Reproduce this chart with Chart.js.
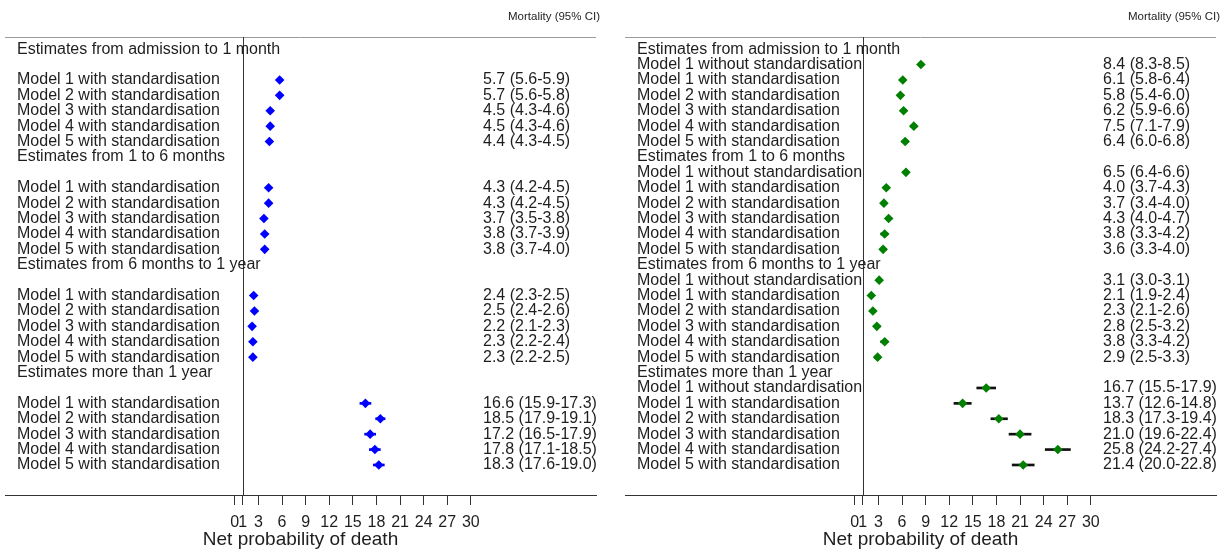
<!DOCTYPE html>
<html>
<head>
<meta charset="utf-8">
<script src="https://cdn.jsdelivr.net/npm/chart.js@4.4.1/dist/chart.umd.min.js"></script>
<style>
  html, body { margin: 0; padding: 0; background: #fff; }
  #wrap { position: relative; width: 1221px; height: 551px; overflow: hidden; }
  canvas { position: absolute; top: 0; }
</style>
</head>
<body>
<div id="wrap">
  <canvas id="leftPanel" width="620" height="551" style="left:0"></canvas>
  <canvas id="rightPanel" width="601" height="551" style="left:620px"></canvas>
</div>
<script>
// ---- data ----
const groups = [
  'Estimates from admission to 1 month',
  'Estimates from 1 to 6 months',
  'Estimates from 6 months to 1 year',
  'Estimates more than 1 year'
];
// '' = empty row (no unstandardised estimate in the left panel)
const leftModels = ['', 'Model 1 with standardisation', 'Model 2 with standardisation',
  'Model 3 with standardisation', 'Model 4 with standardisation', 'Model 5 with standardisation'];
const rightModels = ['Model 1 without standardisation', 'Model 1 with standardisation', 'Model 2 with standardisation',
  'Model 3 with standardisation', 'Model 4 with standardisation', 'Model 5 with standardisation'];

const leftEst  = [5.7, 5.7, 4.5, 4.5, 4.4,  4.3, 4.3, 3.7, 3.8, 3.8,  2.4, 2.5, 2.2, 2.3, 2.3,  16.6, 18.5, 17.2, 17.8, 18.3];
const leftLow  = [5.6, 5.6, 4.3, 4.3, 4.3,  4.2, 4.2, 3.5, 3.7, 3.7,  2.3, 2.4, 2.1, 2.2, 2.2,  15.9, 17.9, 16.5, 17.1, 17.6];
const leftHigh = [5.9, 5.8, 4.6, 4.6, 4.5,  4.5, 4.5, 3.8, 3.9, 4.0,  2.5, 2.6, 2.3, 2.4, 2.5,  17.3, 19.1, 17.9, 18.5, 19.0];

const rightEst  = [8.4, 6.1, 5.8, 6.2, 7.5, 6.4,  6.5, 4.0, 3.7, 4.3, 3.8, 3.6,  3.1, 2.1, 2.3, 2.8, 3.8, 2.9,  16.7, 13.7, 18.3, 21.0, 25.8, 21.4];
const rightLow  = [8.3, 5.8, 5.4, 5.9, 7.1, 6.0,  6.4, 3.7, 3.4, 4.0, 3.3, 3.3,  3.0, 1.9, 2.1, 2.5, 3.3, 2.5,  15.5, 12.6, 17.3, 19.6, 24.2, 20.0];
const rightHigh = [8.5, 6.4, 6.0, 6.6, 7.9, 6.8,  6.6, 4.3, 4.0, 4.7, 4.2, 4.0,  3.1, 2.4, 2.6, 3.2, 4.2, 3.3,  17.9, 14.8, 19.4, 22.4, 27.4, 22.8];

const xTicks = [0, 1, 3, 6, 9, 12, 15, 18, 21, 24, 27, 30];
const nullValue = 1;
const headerText = 'Mortality (95% CI)';
const axisTitle = 'Net probability of death';

const FONT = "'Liberation Sans', Arial, sans-serif";
const TEXT = '#1e1e1e';

// row layout: each group = header row + 6 model rows
const rowsPerGroup = 1 + rightModels.length;

const panelText = {
  id: 'panelText',
  beforeDatasetsDraw(chart) {
    const { ctx, chartArea: a, scales: { x } } = chart;
    ctx.save();
    ctx.lineWidth = 1;
    ctx.strokeStyle = '#9a9a9a';
    ctx.beginPath();
    ctx.moveTo(a.left, a.top + 0.5);
    ctx.lineTo(a.right, a.top + 0.5);
    ctx.stroke();
    const px = Math.round(x.getPixelForValue(nullValue)) + 0.5;
    ctx.strokeStyle = '#333';
    ctx.beginPath();
    ctx.moveTo(px, a.top);
    ctx.lineTo(px, a.bottom);
    ctx.stroke();
    ctx.restore();
  },
  afterDatasetsDraw(chart, args, opts) {
    const { ctx, chartArea: a, scales: { y } } = chart;
    ctx.save();
    ctx.fillStyle = TEXT;
    ctx.textBaseline = 'middle';
    ctx.font = '11.5px ' + FONT;
    ctx.textAlign = 'right';
    ctx.fillText(headerText, a.right + 4, a.top - 20);

    ctx.font = '16px ' + FONT;
    ctx.textAlign = 'left';
    opts.rows.forEach((r, i) => {
      const py = y.getPixelForValue(i);
      if (r.label) ctx.fillText(r.label, a.left + 12, py);
      if (r.ci) ctx.fillText(r.ci, a.left + 478, py);
    });
    ctx.restore();
  }
};

function buildPanel(canvasId, models, est, low, high, color, barColor) {
  const rows = [];
  const points = [];
  const bars = [];
  let k = 0;
  groups.forEach((g) => {
    rows.push({ label: g });
    models.forEach((m) => {
      if (!m) { rows.push({}); return; }
      const row = rows.length;
      rows.push({ label: m, ci: `${est[k].toFixed(1)} (${low[k].toFixed(1)}-${high[k].toFixed(1)})` });
      points.push({ x: est[k], y: row });
      bars.push({ x: [low[k], high[k]], y: row });
      k++;
    });
  });

  const canvas = document.getElementById(canvasId);
  return new Chart(canvas.getContext('2d'), {
    type: 'scatter',
    data: {
      datasets: [
        {
          type: 'scatter',
          data: points,
          pointStyle: 'rectRot',
          pointRadius: 4.8,
          pointHoverRadius: 4.8,
          backgroundColor: color,
          borderColor: color,
          borderWidth: 0,
          order: 0
        },
        {
          type: 'bar',
          indexAxis: 'y',
          data: bars,
          barThickness: 2,
          backgroundColor: barColor,
          borderWidth: 0,
          order: 1
        }
      ]
    },
    options: {
      responsive: false,
      animation: false,
      events: [],
      layout: { padding: { left: 5, right: canvas.width - 596, top: 37, bottom: 0 } },
      scales: {
        x: {
          type: 'linear',
          min: -29.2,
          max: 45.9,
          offset: false,
          afterBuildTicks: (s) => { s.ticks = xTicks.map(v => ({ value: v })); },
          afterFit: (s) => { s.height = 56; },
          border: { display: true, color: '#333', width: 1 },
          grid: { offset: false, drawOnChartArea: false, drawTicks: true, tickLength: 10, color: '#333' },
          ticks: {
            autoSkip: false, maxRotation: 0, minRotation: 0, padding: 8,
            color: TEXT, font: { family: FONT, size: 16 },
            callback: (v) => String(v)
          },
          title: {
            display: true, text: axisTitle, color: TEXT,
            font: { family: FONT, size: 19 }, padding: 0
          }
        },
        y: {
          type: 'linear',
          display: false,
          reverse: true,
          offset: false,
          grid: { offset: false },
          min: -0.79,
          max: rowsPerGroup * groups.length + 0.95
        }
      },
      plugins: {
        legend: { display: false },
        tooltip: { enabled: false },
        panelText: { rows }
      }
    },
    plugins: [panelText]
  });
}

buildPanel('leftPanel', leftModels, leftEst, leftLow, leftHigh, '#0000ff', '#0000ff');
buildPanel('rightPanel', rightModels, rightEst, rightLow, rightHigh, '#008000', '#111111');
</script>
</body>
</html>
